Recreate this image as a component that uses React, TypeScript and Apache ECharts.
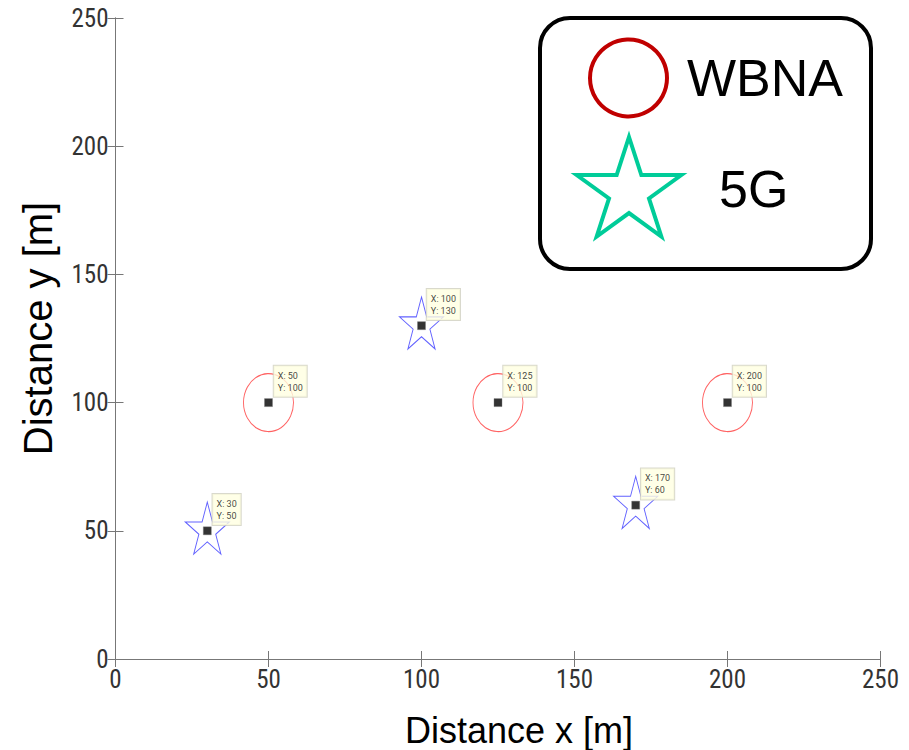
import React, { useEffect, useRef } from "react";
import * as echarts from "echarts";

// ---- data ----
const axisMin = 0;
const axisMax = 250;
const tickStep = 50;
const xTitle = "Distance x [m]";
const yTitle = "Distance y [m]";
const wbnaX = [50, 125, 200];
const wbnaY = [100, 100, 100];
const g5X = [30, 100, 170];
const g5Y = [50, 130, 60];
const legendLabels = ["WBNA", "5G"];

const STAR_PATH =
  "path://M0,-100L22.45,-30.9L95.11,-30.9L36.33,11.8L58.78,80.9L0,38.2L-58.78,80.9L-36.33,11.8L-95.11,-30.9L-22.45,-30.9Z";

function starPoints(cx: number, cy: number, R: number): number[][] {
  const pts: number[][] = [];
  for (let i = 0; i < 10; i++) {
    const r = i % 2 === 0 ? R : R * 0.382;
    const a = ((-90 + i * 36) * Math.PI) / 180;
    pts.push([cx + r * Math.cos(a), cy + r * Math.sin(a)]);
  }
  return pts;
}

const tickFont = "'Liberation Sans Narrow', 'Roboto Condensed', Roboto, sans-serif";
const titleFont = "'Liberation Sans', Arial, sans-serif";

export default function App() {
  const ref = useRef<HTMLDivElement>(null);
  useEffect(() => {
    if (!ref.current) return;
    const chart = echarts.init(ref.current, undefined, { renderer: "svg" });
    const wbna = wbnaX.map((x, i) => [x, wbnaY[i]]);
    const g5 = g5X.map((x, i) => [x, g5Y[i]]);
    const all = [...wbna, ...g5];

    const axisLine = { show: true, lineStyle: { color: "#777", width: 1 } };
    const axisTick = { show: true, inside: true, length: 8, lineStyle: { color: "#777", width: 1 } };
    const axisLabel = { fontFamily: tickFont, fontSize: 25, color: "#333" };

    chart.setOption({
      animation: false,
      backgroundColor: "#fff",
      grid: {
        left: 115.5, right: 28.5, top: 18, bottom: 91,
        containLabel: false, outerBoundsMode: "none",
      },
      xAxis: [
        {
          type: "value", min: axisMin, max: axisMax, interval: tickStep, position: "bottom",
          axisLine, axisTick, splitLine: { show: false },
          axisLabel: { ...axisLabel, margin: 8 },
          name: xTitle, nameLocation: "middle", nameGap: 53,
          nameTextStyle: { fontFamily: titleFont, fontSize: 36, color: "#000", padding: [0, 0, 0, 42] },
        },
        {
          type: "value", min: axisMin, max: axisMax, interval: tickStep, position: "top",
          axisLine, axisTick, splitLine: { show: false }, axisLabel: { show: false },
        },
      ],
      yAxis: [
        {
          type: "value", min: axisMin, max: axisMax, interval: tickStep, position: "left",
          axisLine, axisTick, splitLine: { show: false },
          axisLabel: { ...axisLabel, margin: 7 },
          name: yTitle, nameLocation: "middle", nameGap: 58, nameRotate: 90,
          nameTextStyle: { fontFamily: titleFont, fontSize: 40, color: "#000", padding: [0, 0, 0, 20] },
        },
        {
          type: "value", min: axisMin, max: axisMax, interval: tickStep, position: "right",
          axisLine, axisTick, splitLine: { show: false }, axisLabel: { show: false },
        },
      ],
      series: [
        {
          name: "WBNA", type: "scatter", xAxisIndex: 0, yAxisIndex: 0,
          data: wbna, symbol: "circle", symbolSize: [50, 58],
          itemStyle: { color: "transparent", borderColor: "#ff3b3b", borderWidth: 1 },
          silent: true, z: 2,
        },
        {
          name: "5G", type: "scatter", xAxisIndex: 0, yAxisIndex: 0,
          data: g5, symbol: STAR_PATH, symbolSize: [44, 52], symbolOffset: [0, -2.7],
          itemStyle: { color: "transparent", borderColor: "#3a3aff", borderWidth: 1 },
          silent: true, z: 2,
        },
        {
          name: "tips", type: "scatter", xAxisIndex: 0, yAxisIndex: 0,
          data: all, symbol: "rect", symbolSize: 8,
          itemStyle: { color: "#000", borderColor: "#777", borderWidth: 0.5 },
          z: 3,
          label: {
            show: true,
            position: [9.5, -32.5],
            formatter: (p: any) => `X: ${p.value[0]}\nY: ${p.value[1]}`,
            fontFamily: "Roboto, sans-serif",
            fontSize: 9,
            lineHeight: 12,
            color: "#111",
            backgroundColor: "#ffffe1",
            borderColor: "#cfcfbf",
            borderWidth: 1,
            padding: [4, 4, 3, 4],
          },
        },
      ],
      graphic: [
        {
          type: "group", z: 100,
          children: [
            {
              type: "rect",
              shape: { x: 540, y: 18, width: 331, height: 251, r: 30 },
              style: { fill: "#fff", stroke: "#000", lineWidth: 4 },
            },
            {
              type: "circle",
              shape: { cx: 628.5, cy: 78, r: 38.5 },
              style: { fill: "none", stroke: "#c00000", lineWidth: 4 },
            },
            {
              type: "text",
              style: {
                x: 687, y: 77.5, text: legendLabels[0], fill: "#000",
                font: `52px ${titleFont}`, textAlign: "left", textVerticalAlign: "middle",
              },
            },
            {
              type: "polygon",
              shape: { points: starPoints(629, 192, 55) },
              style: { fill: "none", stroke: "#00cc99", lineWidth: 4, lineJoin: "miter" },
            },
            {
              type: "text",
              style: {
                x: 719, y: 189, text: legendLabels[1], fill: "#000",
                font: `52px ${titleFont}`, textAlign: "left", textVerticalAlign: "middle",
              },
            },
          ],
        },
      ],
    });
    return () => chart.dispose();
  }, []);
  return (
    <div
      ref={ref}
      style={{ position: "fixed", left: 0, top: 0, width: 909, height: 750, background: "#fff" }}
    />
  );
}
